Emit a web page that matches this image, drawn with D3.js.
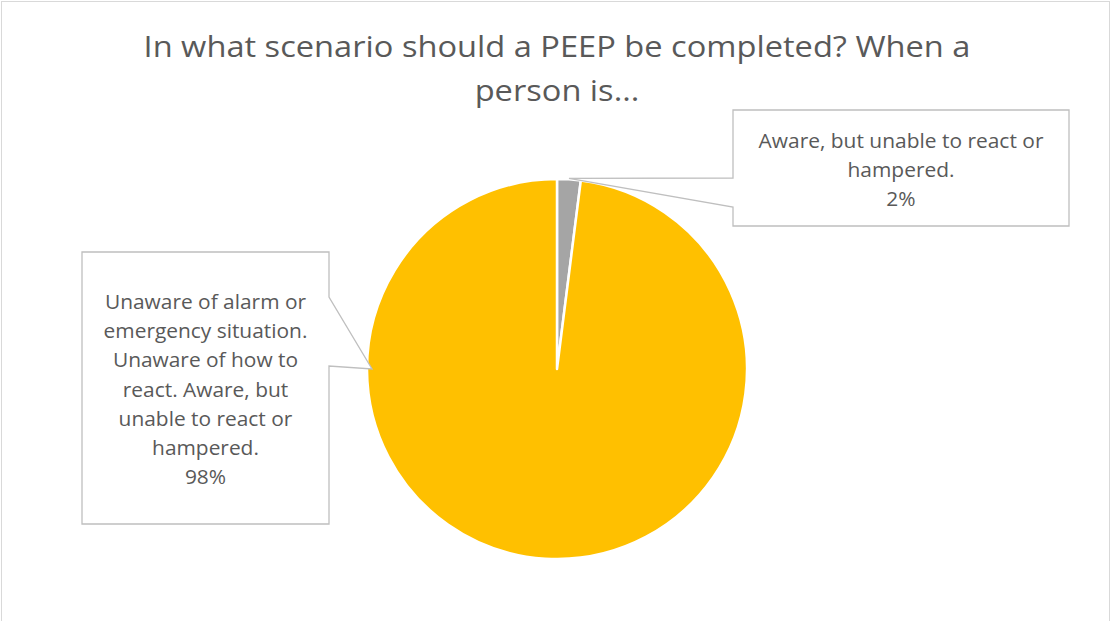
<!DOCTYPE html>
<html>
<head>
<meta charset="utf-8">
<script src="https://cdn.jsdelivr.net/npm/d3@7"></script>
<style>
  html, body { margin: 0; padding: 0; background: #fff; }
  svg { display: block; }
  text { font-family: "Open Sans", Lato, sans-serif; fill: #595959; }
</style>
</head>
<body>
<svg id="chart" width="1112" height="621"></svg>
<script>
// Survey answers: share of respondents per scenario
const categories = [
  "Aware, but unable to react or hampered.",
  "Unaware of alarm or emergency situation. Unaware of how to react. Aware, but unable to react or hampered."
];
const percentValues = [2, 98];
const sliceColors = ["#A5A5A5", "#FFC000"];
const titleLines = ["In what scenario should a PEEP be completed? When a", "person is..."];
// Wrapped label lines as shown in each callout
const labelLines = [
  ["Aware, but unable to react or", "hampered."],
  ["Unaware of alarm or", "emergency situation.", "Unaware of how to", "react. Aware, but", "unable to react or", "hampered."]
];

const W = 1112, H = 621;
const svg = d3.select("#chart");

// chart area frame
svg.append("rect")
  .attr("x", 1.5).attr("y", 1.5)
  .attr("width", W - 4).attr("height", H)
  .attr("fill", "#fff").attr("stroke", "#D9D9D9").attr("stroke-width", 1);

// condense a text block horizontally so its widest line spans `target` px
function fitWidth(sel, anchorX, target) {
  let widest = 0;
  sel.selectAll("tspan").each(function () {
    widest = Math.max(widest, this.getComputedTextLength());
  });
  const k = target / widest;
  sel.attr("transform", `translate(${anchorX},0) scale(${k},1) translate(${-anchorX},0)`);
}

// title
const title = svg.append("text")
  .attr("text-anchor", "middle")
  .style("font-size", "29px");
titleLines.forEach((t, i) => {
  title.append("tspan").attr("x", 557).attr("y", 57 + i * 44).text(t);
});
fitWidth(title, 557, 827);

// pie
const cx = 557, cy = 369, R = 190;
const pie = d3.pie().sort(null).value(d => d).startAngle(0).endAngle(2 * Math.PI);
const arcs = pie(percentValues);
const arc = d3.arc().innerRadius(0).outerRadius(R);

const g = svg.append("g").attr("transform", `translate(${cx},${cy})`);
g.selectAll("path")
  .data(arcs)
  .join("path")
  .attr("d", arc)
  .attr("fill", (d, i) => sliceColors[i])
  .attr("stroke", "#fff")
  .attr("stroke-width", 2.5)
  .attr("stroke-linejoin", "round");

// callout boxes (box rect + wedge base on the side facing the pie)
const callouts = [
  { x0: 733, y0: 110, x1: 1069, y1: 226, side: "left",  b0: 178, b1: 207, angle: (arcs[0].startAngle + arcs[0].endAngle) / 2, rr: R + 1, textY: 148, textW: 285 },
  { x0: 82,  y0: 252, x1: 329,  y1: 524, side: "right", b0: 297, b1: 366, angle: 1.5 * Math.PI, rr: R - 5, textY: 309, textW: 204 }
];

const fmt = v => d3.format(".0%")(v / 100);

callouts.forEach((c, i) => {
  const tipX = cx + c.rr * Math.sin(c.angle);
  const tipY = cy - c.rr * Math.cos(c.angle);
  let pts;
  if (c.side === "left") {
    pts = [[c.x0, c.y0], [c.x1, c.y0], [c.x1, c.y1], [c.x0, c.y1], [c.x0, c.b1], [tipX, tipY], [c.x0, c.b0]];
  } else {
    pts = [[c.x0, c.y0], [c.x1, c.y0], [c.x1, c.b0], [tipX, tipY], [c.x1, c.b1], [c.x1, c.y1], [c.x0, c.y1]];
  }
  svg.append("polygon")
    .attr("points", pts.map(p => p.join(",")).join(" "))
    .attr("fill", "#fff")
    .attr("stroke", "#BFBFBF")
    .attr("stroke-width", 1.3);

  const lines = labelLines[i].concat([fmt(percentValues[i])]);
  const mid = (c.x0 + c.x1) / 2;
  const t = svg.append("text")
    .attr("text-anchor", "middle")
    .style("font-size", "20px");
  lines.forEach((ln, j) => {
    t.append("tspan")
      .attr("x", mid)
      .attr("y", c.textY + j * 29.2)
      .text(ln);
  });
  fitWidth(t, mid, c.textW);
});
</script>
</body>
</html>
